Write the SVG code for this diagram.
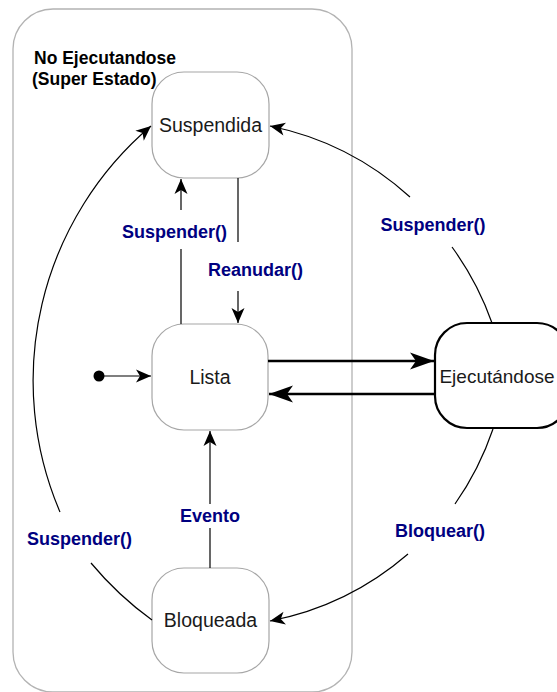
<svg xmlns="http://www.w3.org/2000/svg" width="557" height="692" viewBox="0 0 557 692">
  <style>
    .state { fill: #ffffff; stroke: #a6a6a6; stroke-width: 1.2; }
    .active { fill: #ffffff; stroke: #000000; stroke-width: 2.2; }
    .name { font-family: "Liberation Sans", Arial, sans-serif; font-size: 19.5px; fill: #1a1a1a; text-anchor: middle; }
    .title { font-family: "Liberation Sans", Arial, sans-serif; font-size: 17.5px; font-weight: bold; fill: #000000; }
    .label { font-family: "Liberation Sans", Arial, sans-serif; font-size: 18px; font-weight: bold; fill: #000080; text-anchor: middle; }
    .edge { fill: none; stroke: #000000; stroke-width: 1.2; }
    .edge-bold { fill: none; stroke: #000000; stroke-width: 2.4; }
  </style>
  <defs>
    <marker id="arrow" markerUnits="userSpaceOnUse" markerWidth="18" markerHeight="14" viewBox="-16 -7 18 14" refX="0" refY="0" orient="auto">
      <path d="M0,0 L-15,-6.5 L-11,0 L-15,6.5 Z" fill="#000000"/>
    </marker>
    <marker id="arrow-big" markerUnits="userSpaceOnUse" markerWidth="28" markerHeight="20" viewBox="-26 -10 28 20" refX="0" refY="0" orient="auto">
      <path d="M0,0 L-24,-8.5 L-18,0 L-24,8.5 Z" fill="#000000"/>
    </marker>
  </defs>

  <rect width="557" height="692" fill="#ffffff"/>

  <!-- composite state -->
  <g id="no-ejecutandose">
    <rect x="13" y="9" width="339" height="683" rx="40" ry="40" fill="none" stroke="#b3b3b3" stroke-width="1.3"/>
    <text class="title" x="34" y="63.5">No Ejecutandose</text>
    <text class="title" x="32" y="85">(Super Estado)</text>
  </g>

  <g id="suspendida">
    <rect class="state" x="152" y="72" width="117" height="106" rx="32" ry="32"/>
    <text class="name" x="210.5" y="131.5">Suspendida</text>
  </g>

  <g id="lista">
    <rect class="state" x="152" y="324" width="116" height="106" rx="32" ry="32"/>
    <text class="name" x="210" y="384">Lista</text>
  </g>

  <g id="bloqueada">
    <rect class="state" x="152" y="568" width="117" height="105" rx="32" ry="32"/>
    <text class="name" x="210.5" y="627">Bloqueada</text>
  </g>

  <g id="ejecutandose">
    <rect class="active" x="435" y="323" width="134" height="105" rx="32" ry="32"/>
    <text class="name" x="497" y="383" style="font-size:19px">Ejecutándose</text>
  </g>

  <g id="inicio">
    <circle cx="99" cy="376" r="5.5" fill="#000000"/>
  </g>

  <g id="connectors">
    <!-- initial transition -->
    <path class="edge" d="M99,376 L151,376" marker-end="url(#arrow)"/>

    <!-- Lista -> Suspendida -->
    <path class="edge" d="M181,324 L181,249"/>
    <path class="edge" d="M181,210 L181,179" marker-end="url(#arrow)"/>
    <text class="label" x="174.5" y="238">Suspender()</text>

    <!-- Suspendida -> Lista -->
    <path class="edge" d="M238,178 L238,242"/>
    <path class="edge" d="M238,291 L238,323" marker-end="url(#arrow)"/>
    <text class="label" x="255.5" y="276">Reanudar()</text>

    <!-- Lista <-> Ejecutandose -->
    <path class="edge-bold" d="M268,361 L434,361" marker-end="url(#arrow-big)"/>
    <path class="edge-bold" d="M435,394 L269,394" marker-end="url(#arrow-big)"/>

    <!-- Ejecutandose -> Suspendida -->
    <path class="edge" d="M492,323 A297,297 0 0 0 452,247"/>
    <path class="edge" d="M410,197 A297,297 0 0 0 270,126" marker-end="url(#arrow)"/>
    <text class="label" x="433" y="231">Suspender()</text>

    <!-- Ejecutandose -> Bloqueada -->
    <path class="edge" d="M493,429 A297,297 0 0 1 455,504"/>
    <path class="edge" d="M408,554 A297,297 0 0 1 270,621" marker-end="url(#arrow)"/>
    <text class="label" x="440" y="537">Bloquear()</text>

    <!-- Bloqueada -> Lista -->
    <path class="edge" d="M210,568 L210,528"/>
    <path class="edge" d="M210,504 L210,431" marker-end="url(#arrow)"/>
    <text class="label" x="210" y="522">Evento</text>

    <!-- Bloqueada -> Suspendida -->
    <path class="edge" d="M152,620 A334,334 0 0 1 91,563"/>
    <path class="edge" d="M60,512 A334,334 0 0 1 151,126" marker-end="url(#arrow)"/>
    <text class="label" x="79.5" y="545">Suspender()</text>
  </g>
</svg>
